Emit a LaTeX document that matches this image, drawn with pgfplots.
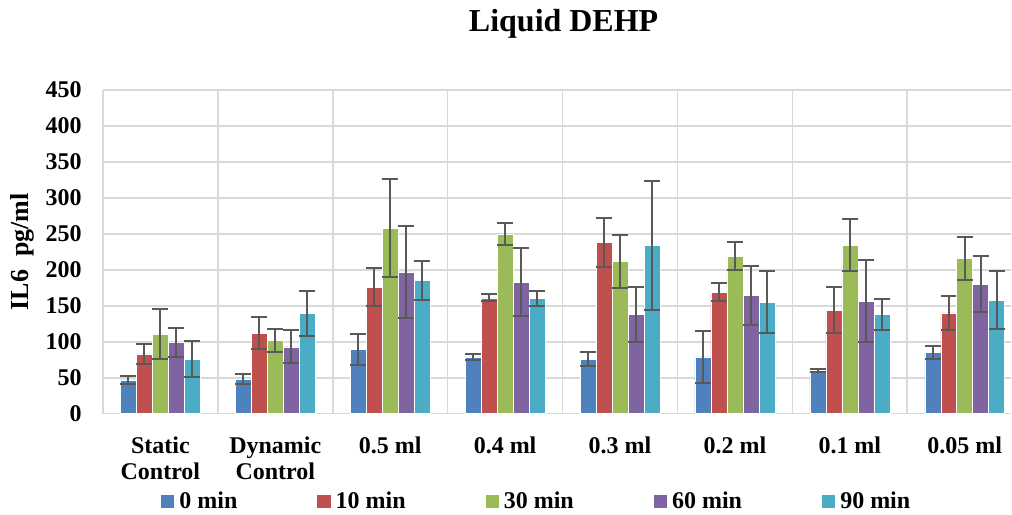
\documentclass[border=0pt]{standalone}
\usepackage{fontspec}
\setmainfont{Liberation Serif}
\usepackage{pgfplots}
\pgfplotsset{compat=1.18}
\definecolor{c0}{HTML}{4F81BD}
\definecolor{c1}{HTML}{C0504D}
\definecolor{c2}{HTML}{9BBB59}
\definecolor{c3}{HTML}{8064A2}
\definecolor{c4}{HTML}{4BACC6}
\definecolor{gridc}{HTML}{D9D9D9}
\definecolor{errc}{HTML}{595959}
\pgfplotsset{
  mybar/.style={fill=#1, draw=white, line width=0.4pt,
    error bars/y dir=both, error bars/y explicit,
    error bars/error bar style={draw=errc, line width=1.5pt},
    error bars/error mark options={draw=errc, line width=1.5pt, mark size=6pt, rotate=90}},
}
\begin{document}
\begin{tikzpicture}
\path (0,0) rectangle (759pt,386.25pt);
\begin{axis}[
  at={(77.25pt,75.75pt)}, anchor=south west,
  scale only axis, width=681.75pt, height=243pt,
  ybar=0pt, bar width=12pt,
  xmin=-0.5, xmax=7.4043, ymin=0, ymax=450,
  xtick={0,...,7},
  xticklabels={{Static\\Control},{Dynamic\\Control},0.5 ml,0.4 ml,0.3 ml,0.2 ml,0.1 ml,0.05 ml},
  minor xtick={-0.5,0.5,...,6.5},
  xminorgrids=true, ymajorgrids=true, xmajorgrids=false,
  ytick={0,50,...,450},
  major tick length=0pt, minor tick length=0pt,
  axis x line*=bottom, axis y line*=left,
  axis line style={-, draw=gridc, line width=1.2pt},
  major grid style={draw=gridc, line width=1.2pt},
  minor grid style={draw=gridc, line width=1.2pt},
  /pgf/number format/assume math mode=true,
  yticklabel style={anchor=east, inner sep=0pt, xshift=-15.75pt, font=\fontsize{18}{20}\selectfont\bfseries},
  xticklabel style={anchor=north, inner sep=0pt, yshift=-17pt, align=center, font=\fontsize{18}{19.5}\selectfont\bfseries},
  title={Liquid DEHP},
  title style={at={(axis description cs:0.5072,1.1543)}, anchor=base, yshift=0pt, inner sep=0pt, font=\fontsize{24}{28}\selectfont\bfseries},
  ylabel={IL6\ \ pg/ml},
  ylabel style={at={(axis description cs:-0.0891,0.5)}, anchor=center, inner sep=0pt, font=\fontsize{19.5}{22}\selectfont\bfseries},
  legend columns=5,
  legend image code/.code={\fill[#1, draw=none] (0pt,-5pt) rectangle (10pt,5pt);},
  legend style={draw=none, fill=none, at={(axis description cs:0.0638,-0.2716)}, anchor=west,
    inner sep=0pt, font=\fontsize{18}{20}\selectfont\bfseries,
    nodes={inner sep=0pt},
    /tikz/every odd column/.style={column sep=3.75pt},
    /tikz/every even column/.style={column sep=60pt}},
  legend cell align=left,
]
\addplot[mybar=c0] coordinates {(0,47) +- (0,6) (1,48) +- (0,7) (2,89) +- (0,22) (3,79) +- (0,4) (4,76) +- (0,10) (5,79) +- (0,36) (6,60) +- (0,2) (7,85) +- (0,9)};
\addplot[mybar=c1] coordinates {(0,83) +- (0,14) (1,112) +- (0,22) (2,176) +- (0,27) (3,161) +- (0,5) (4,238) +- (0,34) (5,169) +- (0,13) (6,144) +- (0,32) (7,140) +- (0,24)};
\addplot[mybar=c2] coordinates {(0,111) +- (0,35) (1,102) +- (0,16) (2,258) +- (0,68) (3,250) +- (0,15) (4,212) +- (0,37) (5,219) +- (0,19) (6,234) +- (0,36) (7,216) +- (0,30)};
\addplot[mybar=c3] coordinates {(0,99) +- (0,20) (1,93) +- (0,23) (2,197) +- (0,64) (3,183) +- (0,47) (4,138) +- (0,38) (5,164) +- (0,41) (6,156) +- (0,57) (7,180) +- (0,39)};
\addplot[mybar=c4] coordinates {(0,76) +- (0,25) (1,139) +- (0,31) (2,185) +- (0,27) (3,160) +- (0,10) (4,234) +- (0,90) (5,155) +- (0,43) (6,138) +- (0,21) (7,158) +- (0,40)};
\legend{0 min,10 min,30 min,60 min,90 min}
\end{axis}
\end{tikzpicture}
\end{document}
